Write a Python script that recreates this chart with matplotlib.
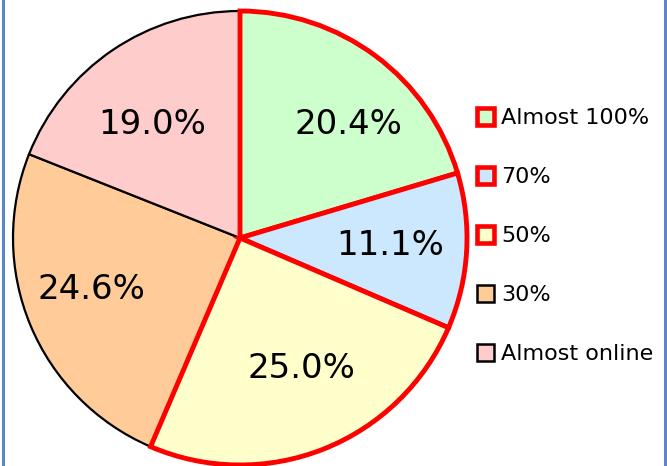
import matplotlib
matplotlib.use("Agg")
import matplotlib.pyplot as plt
from matplotlib.lines import Line2D
from matplotlib.patches import Patch

categories = ["Almost 100%", "70%", "50%", "30%", "Almost online"]
values = [20.4, 11.1, 25.0, 24.6, 19.0]
colors = ["#CCFFCC", "#CCE8FF", "#FFFFCC", "#FFCC99", "#FFCCCC"]
edge_colors = ["#FF0000", "#FF0000", "#FF0000", "#000000", "#000000"]
edge_widths = [3.5, 3.5, 3.5, 1.6, 1.6]
# label positions (fraction of radius), as placed by the original chart
label_xy = [(0.476, 0.502), (0.661, -0.031), (0.269, -0.573),
            (-0.656, -0.229), (-0.388, 0.502)]

W, H = 667, 466
fig = plt.figure(figsize=(W / 100, H / 100), dpi=100)
cx, cy, r = 240, 238, 227
ax = fig.add_axes([(cx - r) / W, (H - cy - r) / H, 2 * r / W, 2 * r / H])

wedges, texts, autotexts = ax.pie(
    values, colors=colors, startangle=90, counterclock=False,
    autopct="%1.1f%%", pctdistance=0.67, radius=1.0,
    textprops=dict(fontsize=24.5, color="black"))
for i, w in enumerate(wedges):
    w.set_edgecolor(edge_colors[i])
    w.set_linewidth(edge_widths[i])
    w.set_clip_on(False)
    w.set_zorder(3 if edge_colors[i] == "#FF0000" else 2)
for t, v, xy in zip(autotexts, values, label_xy):
    t.set_text(f"{v:.1f}%")
    t.set_position(xy)
    t.set_zorder(5)
ax.set_xlim(-1, 1)
ax.set_ylim(-1, 1)
ax.set_aspect("equal")
ax.axis("off")

handles = [Patch(facecolor=colors[i], edgecolor=edge_colors[i],
                 linewidth=(3.3 if edge_colors[i] == "#FF0000" else 1.8))
           for i in range(len(categories))]
leg = fig.legend(handles, categories, loc="upper left",
                 bbox_to_anchor=(468 / W, 1 - 99 / H), frameon=False,
                 fontsize=16, handlelength=0.78, handleheight=0.78,
                 handletextpad=0.32, labelspacing=1.75, borderaxespad=0)

# blue frame edges
fig.add_artist(Line2D([2.5 / W, 2.5 / W], [0, 1], color="#5B87C5", lw=2.2,
                      transform=fig.transFigure))
fig.add_artist(Line2D([665 / W, 665 / W], [0, 1], color="#5B87C5", lw=2.2,
                      transform=fig.transFigure))

fig.savefig("out.png", dpi=100)
